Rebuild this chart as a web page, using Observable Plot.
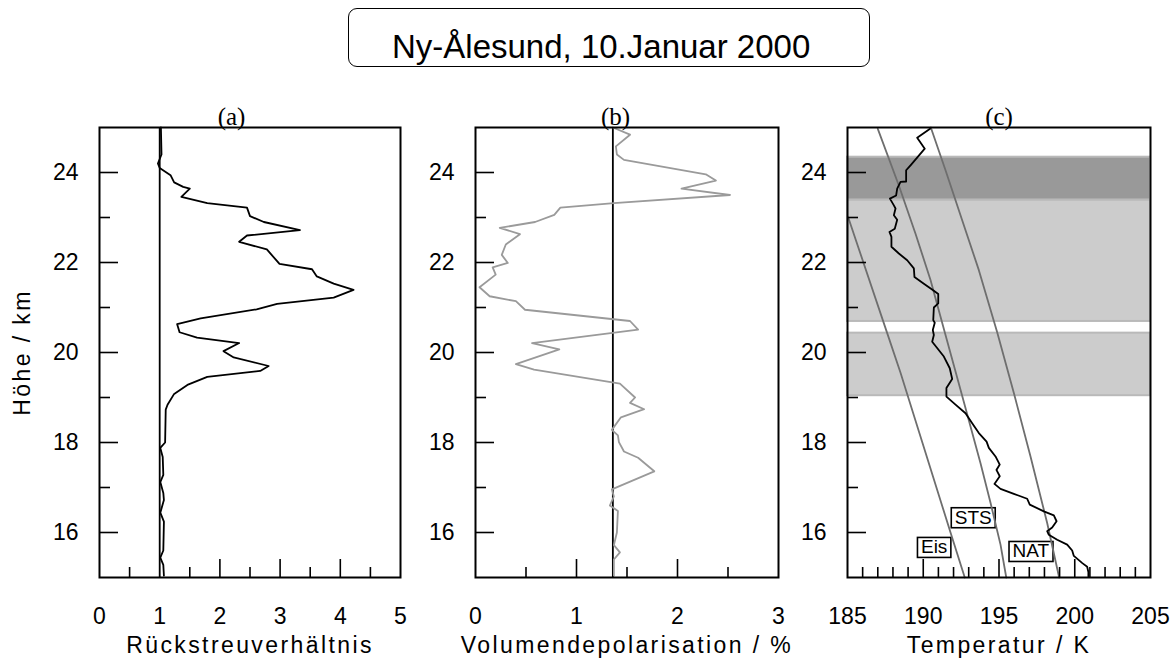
<!DOCTYPE html>
<html>
<head>
<meta charset="utf-8">
<script src="https://cdn.jsdelivr.net/npm/d3@7"></script>
<script src="https://cdn.jsdelivr.net/npm/@observablehq/plot@0.6"></script>
<style>
  html, body { margin: 0; padding: 0; background: #fff; }
  #wrap { position: relative; width: 1175px; height: 667px; overflow: hidden; background: #fff; }
  #titlebox { position: absolute; left: 348px; top: 8px; width: 522px; height: 59px; box-sizing: border-box;
              border: 1.5px solid #000; border-radius: 9px; }
  #titletext { position: absolute; left: 392px; top: 28px; line-height: 38px; white-space: nowrap;
               font-family: "Liberation Sans", Arial, sans-serif; font-size: 33px; color: #000; }
  .panel { position: absolute; top: 90px; }
</style>
</head>
<body>
<div id="wrap">
  <div id="titlebox"></div>
  <div id="titletext">Ny-Ålesund, 10.Januar 2000</div>
</div>
<script>
// ---------- data ----------
// (a) backscatter ratio profile
const altA = [25.0, 24.4, 24.2, 24.1, 23.94, 23.78, 23.68, 23.64, 23.46, 23.32, 23.22, 23.03, 22.9, 22.72, 22.6, 22.46, 22.29, 21.97, 21.85, 21.69, 21.53, 21.39, 21.22, 21.08, 20.96, 20.76, 20.63, 20.45, 20.33, 20.21, 20.03, 19.89, 19.7, 19.59, 19.46, 19.28, 19.08, 18.84, 18.73, 18.0, 17.88, 17.68, 17.28, 17.12, 16.88, 16.72, 16.44, 16.24, 15.6, 15.44, 15.28, 15.04];
const backscatter = [1.02, 1.03, 0.97, 1.0, 1.18, 1.24, 1.39, 1.5, 1.36, 1.79, 2.45, 2.5, 2.73, 3.33, 2.45, 2.32, 2.78, 2.99, 3.53, 3.61, 3.89, 4.22, 3.89, 2.95, 2.61, 1.68, 1.29, 1.33, 1.62, 2.32, 2.06, 2.23, 2.81, 2.67, 1.79, 1.46, 1.24, 1.13, 1.1, 1.09, 1.01, 1.05, 1.06, 1.01, 1.06, 1.07, 1.01, 1.07, 1.06, 1.01, 1.06, 1.07];
const backscatterRef = 1.0;

// (b) volume depolarisation profile
const altB = [25.0, 24.84, 24.58, 24.4, 24.28, 23.96, 23.82, 23.64, 23.5, 23.32, 23.22, 23.06, 22.9, 22.77, 22.63, 22.4, 22.17, 21.99, 21.89, 21.73, 21.45, 21.25, 21.14, 20.95, 20.7, 20.51, 20.21, 20.07, 19.74, 19.62, 19.31, 19.0, 18.88, 18.74, 18.56, 18.28, 18.16, 18.01, 17.8, 17.66, 17.36, 16.96, 16.8, 16.6, 16.48, 16.0, 15.72, 15.56, 15.4, 15.04];
const depol = [1.36, 1.53, 1.39, 1.40, 1.47, 2.28, 2.38, 2.04, 2.52, 1.37, 0.84, 0.78, 0.59, 0.24, 0.44, 0.30, 0.26, 0.32, 0.17, 0.2, 0.04, 0.14, 0.40, 0.49, 1.53, 1.61, 0.56, 0.83, 0.40, 0.58, 1.43, 1.58, 1.53, 1.67, 1.44, 1.35, 1.41, 1.42, 1.47, 1.61, 1.77, 1.35, 1.37, 1.33, 1.41, 1.40, 1.37, 1.43, 1.37, 1.37];
const depolRef = 1.36;

// (c) temperature profile
const altT = [24.97, 24.77, 24.53, 24.42, 24.16, 24.05, 23.80, 23.79, 23.64, 23.49, 23.42, 23.27, 23.2, 23.05, 22.95, 22.75, 22.68, 22.57, 22.35, 22.2, 22.05, 21.87, 21.68, 21.53, 21.39, 21.3, 21.09, 21.0, 20.72, 20.66, 20.5, 20.39, 20.24, 19.91, 19.65, 19.41, 19.21, 19.02, 18.84, 18.65, 18.43, 18.21, 18.02, 17.88, 17.69, 17.51, 17.39, 17.25, 17.08, 16.97, 16.86, 16.75, 16.62, 16.47, 16.38, 16.25, 16.11, 16.03, 15.95, 15.84, 15.73, 15.6, 15.48, 15.32, 15.24, 15.12, 15.02];
const temp = [190.45, 189.6, 190.1, 189.82, 189.16, 188.87, 188.87, 188.5, 188.28, 188.21, 187.8, 188.06, 188.17, 188.06, 188.28, 188.12, 187.77, 187.9, 187.9, 188.39, 188.94, 189.38, 189.42, 190.04, 190.63, 190.99, 190.99, 190.7, 190.66, 190.76, 190.63, 190.7, 190.59, 191.36, 191.75, 191.91, 191.53, 191.53, 192.13, 192.79, 193.23, 193.67, 194.18, 194.33, 194.77, 195.05, 194.83, 195.05, 194.7, 195.1, 195.98, 196.86, 197.03, 197.96, 198.62, 198.8, 198.51, 198.18, 198.29, 198.84, 199.5, 199.83, 199.94, 200.5, 200.82, 200.9, 200.9];

// existence temperatures
const eisAlt = [23.0, 20.43, 19.55, 16.0, 15.0];
const eisT   = [185.05, 187.62, 188.5, 191.8, 192.74];
const stsAlt = [24.97, 23.71, 22.64, 21.61, 20.45, 19.17, 17.54, 16.66, 15.73, 15.0];
const stsT   = [187.0, 188.39, 189.49, 190.48, 191.42, 192.46, 193.78, 194.44, 195.1, 195.48];
const natAlt = [25.0, 24.05, 22.94, 21.83, 20.45, 19.1, 17.69, 16.21, 15.0];
const natT   = [190.5, 191.47, 192.57, 193.67, 194.88, 195.98, 197.08, 198.18, 198.97];

// cloud layers
const bandLow   = [23.39, 20.69, 19.04];
const bandHigh  = [24.34, 23.39, 20.43];
const bandShade = ["dark", "light", "light"];

// curve labels
const labelText = ["STS", "Eis", "NAT"];
const labelT    = [193.3, 190.72, 197.1];
const labelAlt  = [16.33, 15.67, 15.58];

// ticks
const yMajor = [16, 18, 20, 22, 24];
const yMinor = [17, 19, 21, 23];
const axisTitles = ["Rückstreuverhältnis", "Volumendepolarisation / %", "Temperatur / K", "Höhe / km"];

// ---------- drawing ----------
const SANS = '"Liberation Sans", Arial, sans-serif';
const SERIF = '"Liberation Serif", "Times New Roman", serif';
const idx = (arr) => arr.map((_, i) => i);

function panel(cfg) {
  const marks = [
    ...cfg.marks,
    Plot.axisY({ticks: yMajor, tickSize: 0, tickPadding: 21, tickFormat: d => d, fontSize: 23, fontFamily: SANS, label: null}),
    Plot.axisY({ticks: yMajor, tickSize: -19, fill: "none", strokeWidth: 1.6, label: null}),
    Plot.axisY({ticks: yMinor, tickSize: -11, fill: "none", strokeWidth: 1.6, label: null}),
    Plot.axisX({ticks: cfg.xLabels, tickSize: 0, tickPadding: 30, tickFormat: d => d, fontSize: 23, fontFamily: SANS, label: null}),
    Plot.axisX({ticks: cfg.xMajor, tickSize: -18, fill: "none", strokeWidth: 1.6, label: null}),
    Plot.axisX({ticks: cfg.xMinor, tickSize: -10, fill: "none", strokeWidth: 1.6, label: null}),
    Plot.frame({stroke: "black", strokeWidth: 2}),
    Plot.text([cfg.xTitle], {frameAnchor: "bottom", dy: 75, fontSize: 23, fontFamily: SANS, fill: "black"}),
    Plot.text([cfg.tag], {frameAnchor: "top", dy: -20, dx: cfg.tagDx, fontSize: 25, fontFamily: SERIF, fill: "black"})
  ];
  if (cfg.yTitle) {
    marks.push(Plot.text([cfg.yTitle], {frameAnchor: "left", textAnchor: "middle", dx: -77, rotate: -90, fontSize: 23, fontFamily: SANS, fill: "black"}));
  }
  const svg = Plot.plot({
    width: cfg.width, height: 577,
    marginLeft: cfg.mL, marginRight: cfg.mR, marginTop: 37, marginBottom: 90,
    style: {fontFamily: SANS, fontSize: "23px", background: "transparent", overflow: "visible", color: "black"},
    x: {domain: cfg.xDomain, label: null},
    y: {domain: [15, 25], label: null},
    marks
  });
  svg.classList.add("panel");
  svg.style.left = cfg.left + "px";
  document.getElementById("wrap").appendChild(svg);
  decorate(svg);
  return svg;
}

function decorate(svg) {
  const ns = "http://www.w3.org/2000/svg";
  svg.querySelectorAll("text").forEach(t => {
    const s = t.textContent;
    if (axisTitles.includes(s)) t.setAttribute("letter-spacing", "2.4");
    if (labelText.includes(s)) {
      const b = t.getBBox();
      const r = document.createElementNS(ns, "rect");
      r.setAttribute("x", b.x - 3.5);
      r.setAttribute("y", b.y + 1);
      r.setAttribute("width", b.width + 7);
      r.setAttribute("height", b.height - 1);
      r.setAttribute("fill", "white");
      r.setAttribute("stroke", "black");
      r.setAttribute("stroke-width", "1.6");
      const tr = t.getAttribute("transform");
      if (tr) r.setAttribute("transform", tr);
      t.parentNode.insertBefore(r, t);
    }
  });
}

// (a)
panel({
  left: 0, width: 420, mL: 99, mR: 20,
  xDomain: [0, 5], xLabels: [0, 1, 2, 3, 4, 5], xMajor: [2, 3, 4], xMinor: [0.5, 1.5, 2.5, 3.5, 4.5],
  xTitle: "Rückstreuverhältnis", yTitle: "Höhe / km", tag: "(a)", tagDx: -18.5,
  marks: [
    Plot.ruleX([backscatterRef], {stroke: "black", strokeWidth: 1.8}),
    Plot.line(idx(altA), {x: i => backscatter[i], y: i => altA[i], stroke: "black", strokeWidth: 1.8})
  ]
});

// (b)
panel({
  left: 410, width: 390, mL: 65, mR: 22,
  xDomain: [0, 3], xLabels: [0, 1, 2, 3], xMajor: [1, 2], xMinor: [0.5, 1.5, 2.5],
  xTitle: "Volumendepolarisation / %", tag: "(b)", tagDx: -11.5,
  marks: [
    Plot.ruleX([depolRef], {stroke: "black", strokeWidth: 1.8}),
    Plot.line(idx(altB), {x: i => depol[i], y: i => altB[i], stroke: "#9a9a9a", strokeWidth: 1.8})
  ]
});

// (c)
const tMinor = d3.range(186, 205).filter(v => v % 5 !== 0);
panel({
  left: 790, width: 385, mL: 57, mR: 25,
  xDomain: [185, 205], xLabels: [185, 190, 195, 200, 205], xMajor: [190, 195, 200], xMinor: tMinor,
  xTitle: "Temperatur / K", tag: "(c)", tagDx: 0,
  marks: [
    Plot.rect(idx(bandLow).filter(i => bandShade[i] === "light"), {y1: i => bandLow[i], y2: i => bandHigh[i], fill: "#cccccc", stroke: "#b9b9b9", strokeWidth: 2}),
    Plot.rect(idx(bandLow).filter(i => bandShade[i] === "dark"), {y1: i => bandLow[i], y2: i => bandHigh[i], fill: "#999999", stroke: "#b9b9b9", strokeWidth: 2}),
    Plot.text(idx(labelText), {x: i => labelT[i], y: i => labelAlt[i], text: i => labelText[i], fontSize: 19, fontFamily: SANS, fill: "black"}),
    Plot.line(idx(eisAlt), {x: i => eisT[i], y: i => eisAlt[i], stroke: "#6e6e6e", strokeWidth: 1.8}),
    Plot.line(idx(stsAlt), {x: i => stsT[i], y: i => stsAlt[i], stroke: "#6e6e6e", strokeWidth: 1.8}),
    Plot.line(idx(natAlt), {x: i => natT[i], y: i => natAlt[i], stroke: "#6e6e6e", strokeWidth: 1.8}),
    Plot.line(idx(altT), {x: i => temp[i], y: i => altT[i], stroke: "black", strokeWidth: 1.8})
  ]
});
</script>
</body>
</html>
